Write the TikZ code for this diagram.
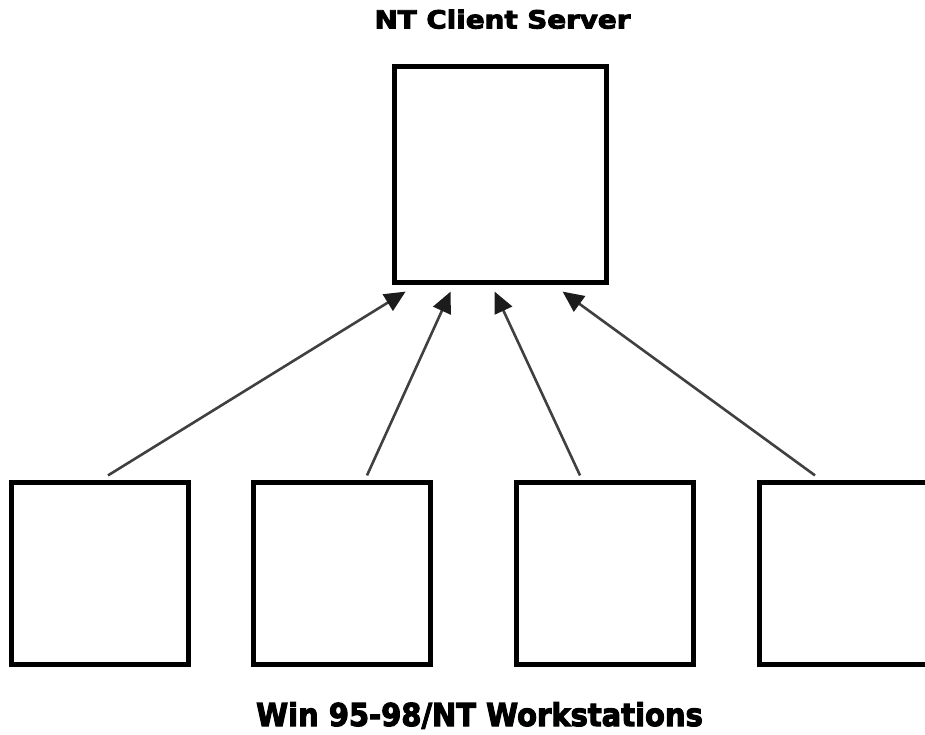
\documentclass[tikz,border=0pt]{standalone}
\usepackage{fontspec}
\setmainfont{DejaVu Sans}
\newfontfamily\heavyfont[FakeBold=3.5]{DejaVu Sans Bold}
\usetikzlibrary{arrows.meta}
\definecolor{arrgray}{HTML}{404040}
\definecolor{headgray}{HTML}{1c1c1c}
\tikzset{
  topbox/.style={draw=black, line width=5.2pt, minimum width=212pt, minimum height=216pt, inner sep=0pt},
  wsbox/.style={draw=black, line width=5.2pt, minimum width=176.4pt, minimum height=182pt, inner sep=0pt},
  link/.style={draw=arrgray, line width=2.6pt, -{Triangle[length=21pt,width=19pt,color=headgray]}},
  title/.style={anchor=base, inner sep=0pt, font=\heavyfont}
}
\begin{document}
\begin{tikzpicture}[x=1pt,y=-1pt]
\useasboundingbox (0,0) rectangle (925,734);
\clip (0,0) rectangle (925,734);
\node[topbox] (srv) at (500.4,174.5) {};
\node[wsbox] (w1) at (100,573.5) {};
\node[wsbox] (w2) at (342,573.5) {};
\node[wsbox] (w3) at (605,573.5) {};
\node[wsbox] (w4) at (847.5,573.5) {};
\node[title] (t1) at (502.5,28.5) {\fontsize{25}{30}\selectfont\scalebox{1.11}[1]{NT Client Server}};
\node[title] (t2) at (479.5,726) {\fontsize{31.5}{36}\selectfont\scalebox{0.92}[1]{Win 95-98/NT Workstations}};
\draw[link] ([xshift=8pt,yshift=4.5pt]w1.north) -- ([xshift=13.8pt,yshift=-6.5pt]srv.south west);
\draw[link] ([xshift=25pt,yshift=4.5pt]w2.north) -- ([xshift=58.8pt,yshift=-6.5pt]srv.south west);
\draw[link] ([xshift=-25pt,yshift=4.5pt]w3.north) -- ([xshift=102.8pt,yshift=-6.5pt]srv.south west);
\draw[link] ([xshift=-32.5pt,yshift=4.5pt]w4.north) -- ([xshift=170.8pt,yshift=-6.5pt]srv.south west);
\end{tikzpicture}
\end{document}
